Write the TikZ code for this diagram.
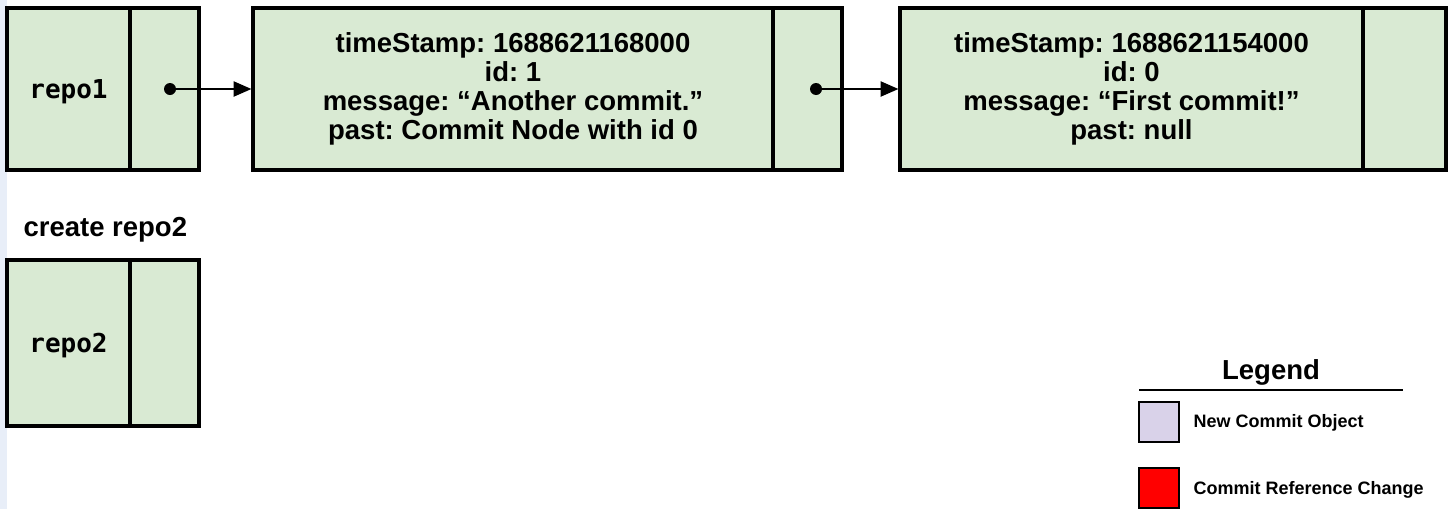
\documentclass[tikz,border=0pt]{standalone}
\usepackage{fontspec}
\setmainfont{Liberation Sans}
\setmonofont{DejaVu Sans Mono}
\usetikzlibrary{arrows.meta}
\definecolor{cellgreen}{HTML}{D9EAD3}
\definecolor{newlilac}{HTML}{D9D2E9}
\definecolor{sidestrip}{HTML}{E8EEF8}
\frenchspacing

\begin{document}
\begin{tikzpicture}[x=1pt, y=-1pt,
    cell/.style={draw, line width=3.5pt, fill=cellgreen, inner sep=0pt, outer sep=0pt, anchor=north west,
        font=\fontsize{27.5}{29}\selectfont\bfseries, align=center},
    repolabel/.style={font=\fontsize{26}{28}\selectfont\ttfamily\bfseries, text depth=0pt},
    ptr/.style={-{Triangle[length=18pt,width=15pt]}, line width=2.5pt, shorten >=1.5pt},
    key/.style={draw, line width=1.5pt, anchor=north west, outer sep=0pt, minimum size=40pt, inner sep=0pt},
    keytext/.style={anchor=west, font=\fontsize{18}{20}\selectfont\bfseries}]
    \useasboundingbox (0,0) rectangle (1455,509);
    \fill[sidestrip] (0,0) rectangle (7,509);

    \node[cell, repolabel, minimum width=123pt, minimum height=162pt] (repo1) at (7,8) {repo1};
    \node[cell, minimum width=69pt, minimum height=162pt] (repo1ptr) at (130,8) {};
    \node[cell, minimum width=520pt, minimum height=162pt] (c1) at (253,8)
        {timeStamp: 1688621168000\\id: 1\\message: “Another commit.”\\past: Commit Node with id 0};
    \node[cell, minimum width=69pt, minimum height=162pt] (c1ptr) at (773,8) {};
    \node[cell, minimum width=463pt, minimum height=162pt] (c0) at (900,8)
        {timeStamp: 1688621154000\\id: 0\\message: “First commit!”\\past: null};
    \node[cell, minimum width=83pt, minimum height=162pt] (c0ptr) at (1363,8) {};

    \coordinate (d1) at (170,89);
    \coordinate (d2) at (816,89);
    \fill (d1) circle (6pt);
    \fill (d2) circle (6pt);
    \draw[ptr] (d1) -- (c1.west);
    \draw[ptr] (d2) -- (c0.west);

    \node[anchor=west, font=\fontsize{27.5}{29}\selectfont\bfseries] (create) at (20,230) {create repo2};
    \node[cell, repolabel, minimum width=123pt, minimum height=166pt] (repo2) at (7,260) {repo2};
    \node[cell, minimum width=69pt, minimum height=166pt] (repo2ptr) at (130,260) {};

    \node[font=\fontsize{27.5}{30}\selectfont\bfseries] (legend) at (1271,372) {Legend};
    \draw[line width=2pt] (1139,390) -- (1403,390);
    \node[key, fill=newlilac] (newkey) at (1139,402) {};
    \node[keytext] (newtext) at (1190,423) {New Commit Object};
    \node[key, fill=red] (refkey) at (1139,468) {};
    \node[keytext] (reftext) at (1190,490) {Commit Reference Change};
\end{tikzpicture}
\end{document}
